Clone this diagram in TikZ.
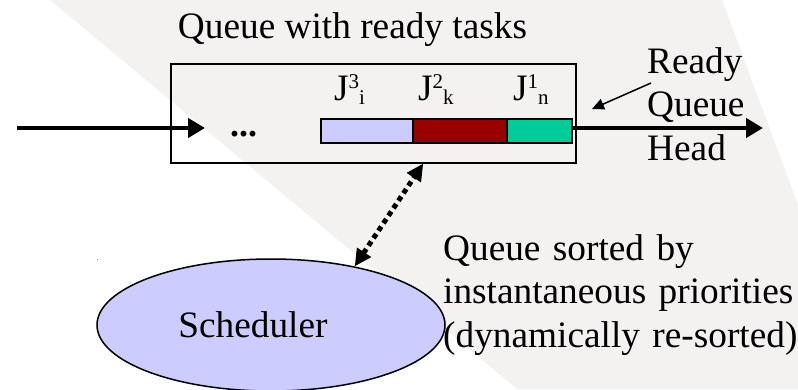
\documentclass[tikz,border=0pt]{standalone}
\usepackage{fontspec}
\setmainfont{Liberation Serif}
\usetikzlibrary{arrows.meta,calc,shapes.geometric}
\definecolor{bggrey}{RGB}{244,241,241}
\definecolor{lav}{HTML}{CCCCFF}
\definecolor{dred}{HTML}{990000}
\definecolor{tealgreen}{HTML}{00CC99}
\newcommand\joblabel[2]{J\raisebox{12pt}{\fontsize{21}{21}\selectfont #1}\raisebox{-4pt}{\fontsize{21}{21}\selectfont #2}}
\begin{document}
\begin{tikzpicture}[x=1pt,y=-1pt,
  big/.style={font=\fontsize{37.3}{43.5}\selectfont, inner sep=0pt},
  bar/.style={draw=black, line width=1.5pt, minimum height=24pt, inner sep=0pt, anchor=north west},
  flow/.style={line width=4.5pt, -{Triangle[length=17pt,width=19pt]}},
  pointer/.style={line width=1.5pt, -{Triangle[length=12pt,width=11pt]}},
  dotarrow/.style={line width=5pt, dash pattern=on 5pt off 4pt,
    {Triangle[length=17pt,width=16pt]}-{Triangle[length=17pt,width=16pt]}}
]
\useasboundingbox (0,0) rectangle (798,389);
\fill[white] (0,0) rectangle (798,389);
\fill[bggrey] (50,0) -- (722,0) -- (798,205) -- (798,389) -- (517,389) -- cycle;
\fill[gray] (96.5,258.5) rectangle (98,260);

% title
\node[big, anchor=base] (title) at (352.5,38) {Queue with ready tasks};

% queue box
\node[draw, line width=1.5pt, minimum width=405pt, minimum height=99pt, inner sep=0pt, anchor=north west] (box) at (170,63) {};

% task bars
\node[bar, fill=lav, minimum width=92pt] (b3) at (320,118) {};
\node[bar, fill=dred, minimum width=94pt] (b2) at (412,118) {};
\node[bar, fill=tealgreen, minimum width=65pt] (b1) at (506,118) {};

% labels
\node[big, anchor=base west] (j3) at (334,100) {\joblabel{3}{i}};
\node[big, anchor=base west] (j2) at (418,100) {\joblabel{2}{k}};
\node[big, anchor=base west] (j1) at (513,100) {\joblabel{1}{n}};

\node[font=\fontsize{36}{36}\selectfont\bfseries, inner sep=0pt, anchor=base] (dots) at (243.5,136) {...};

% in / out arrows
\coordinate (instart) at (17,128);
\coordinate (intip) at (205,128);
\coordinate (outtip) at (763,128);
\draw[flow] (instart) -- (intip);
\draw[flow] (b1.east |- outtip) -- (outtip);

% ready queue head
\node[big, anchor=base west, align=left, text width=130pt] (ready) at (647,73) {Ready\\Queue\\Head};
\coordinate (ptrstart) at (651,83);
\coordinate (ptrtip) at (592,109);
\draw[pointer] (ptrstart) -- (ptrtip);

% scheduler
\node[ellipse, draw, line width=1.5pt, fill=lav, minimum width=348pt, minimum height=132pt, inner sep=0pt] (sched) at (271,325) {};
\node[big] (schedtxt) at (253,325) {Scheduler};

\coordinate (dtop) at ($(box.south west)!0.623!(box.south east)$);
\draw[dotarrow] (sched.35) -- (dtop);

% sorted note
\node[big, anchor=base west, align=left, text width=360pt] (sorted) at (443,260) {Queue sorted by\\instantaneous priorities\\(dynamically re-sorted)};
\end{tikzpicture}
\end{document}
